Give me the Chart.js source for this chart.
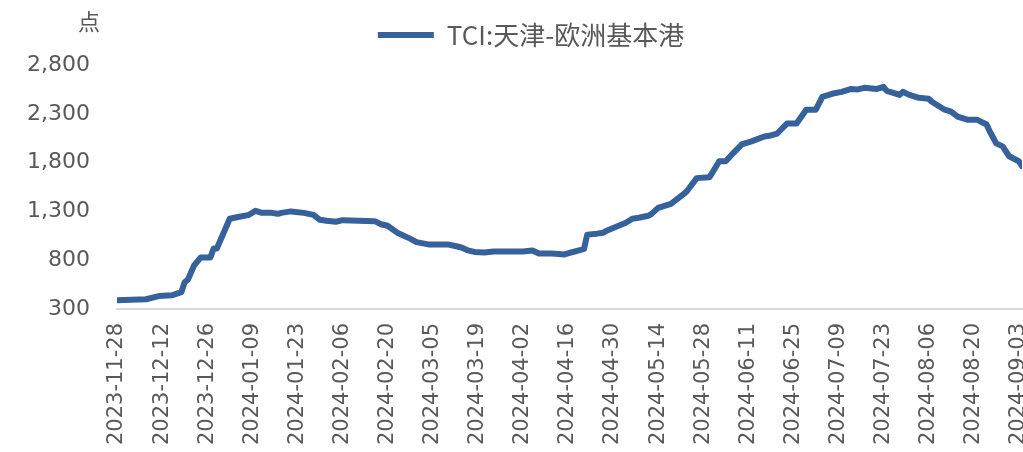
<!DOCTYPE html>
<html lang="zh-CN">
<head>
  <meta charset="UTF-8" />
  <title>TCI:天津-欧洲基本港</title>
  <script src="https://cdn.jsdelivr.net/npm/chart.js"></script>
  <style>
    html, body { margin: 0; padding: 0; background: #fff; }
    #wrap { position: relative; width: 1023px; height: 452px; }
    #unidade {
      position: absolute; left: 78px; top: 4px;
      font: 22px "Noto Sans CJK SC", sans-serif; color: #595959;
    }
  </style>
</head>
<body>
  <div id="wrap">
    <canvas id="grafico" width="1023" height="452"></canvas>
    <div id="unidade">点</div>
  </div>

  <script>
    // dados (valor do índice por data)
    const datas = [
      "2023-11-28", "2023-12-07", "2023-12-11", "2023-12-15", "2023-12-18", "2023-12-19",
      "2023-12-20", "2023-12-22", "2023-12-24", "2023-12-27", "2023-12-28", "2023-12-29",
      "2024-01-02", "2024-01-05", "2024-01-08", "2024-01-10", "2024-01-12", "2024-01-15",
      "2024-01-17", "2024-01-18", "2024-01-21", "2024-01-25", "2024-01-28", "2024-01-30",
      "2024-02-01", "2024-02-04", "2024-02-06", "2024-02-16", "2024-02-18", "2024-02-20",
      "2024-02-23", "2024-02-27", "2024-02-29", "2024-03-04", "2024-03-10", "2024-03-12",
      "2024-03-14", "2024-03-16", "2024-03-18", "2024-03-21", "2024-03-24", "2024-04-02",
      "2024-04-05", "2024-04-07", "2024-04-11", "2024-04-15", "2024-04-17", "2024-04-20",
      "2024-04-21", "2024-04-22", "2024-04-25", "2024-04-27", "2024-04-28", "2024-05-04",
      "2024-05-06", "2024-05-08", "2024-05-11", "2024-05-12", "2024-05-14", "2024-05-18",
      "2024-05-20", "2024-05-22", "2024-05-23", "2024-05-26", "2024-05-30", "2024-06-02",
      "2024-06-04", "2024-06-06", "2024-06-09", "2024-06-12", "2024-06-16", "2024-06-18",
      "2024-06-20", "2024-06-23", "2024-06-26", "2024-06-29", "2024-07-02", "2024-07-04",
      "2024-07-06", "2024-07-07", "2024-07-10", "2024-07-13", "2024-07-15", "2024-07-17",
      "2024-07-21", "2024-07-23", "2024-07-24", "2024-07-28", "2024-07-29", "2024-07-31",
      "2024-08-03", "2024-08-06", "2024-08-07", "2024-08-11", "2024-08-13", "2024-08-15",
      "2024-08-18", "2024-08-21", "2024-08-24", "2024-08-25", "2024-08-27", "2024-08-29",
      "2024-08-31", "2024-09-03", "2024-09-04"
    ];
    const valores = [
      390, 400, 432, 440, 473, 574,
      600, 750, 828, 828, 920, 920,
      1225, 1245, 1265, 1306, 1285, 1285,
      1275, 1285, 1300, 1285, 1265, 1214,
      1204, 1194, 1210, 1200, 1168, 1153,
      1082, 1021, 985, 960, 960, 945,
      930, 900, 885, 879, 889, 889,
      900, 869, 869, 859, 879, 905,
      915, 1062, 1072, 1082, 1102, 1184,
      1225, 1235, 1255, 1275, 1336, 1377,
      1428, 1479, 1509, 1641, 1651, 1814,
      1814, 1885, 1987, 2017, 2068, 2078,
      2098, 2200, 2200, 2342, 2342, 2474,
      2494, 2505, 2525, 2555, 2550, 2566,
      2555, 2576, 2535, 2494, 2525, 2494,
      2464, 2454, 2423, 2342, 2322, 2271,
      2240, 2240, 2190, 2119, 1997, 1966,
      1865, 1814, 1763
    ];
    const rotulosX = [
      "2023-11-28", "2023-12-12", "2023-12-26", "2024-01-09", "2024-01-23", "2024-02-06",
      "2024-02-20", "2024-03-05", "2024-03-19", "2024-04-02", "2024-04-16", "2024-04-30",
      "2024-05-14", "2024-05-28", "2024-06-11", "2024-06-25", "2024-07-09", "2024-07-23",
      "2024-08-06", "2024-08-20", "2024-09-03"
    ];
    const serie = "TCI:天津-欧洲基本港";

    const inicio = Date.parse(datas[0]);
    function dia(s) {
      return (Date.parse(s) - inicio) / 86400000;
    }

    const corLinha = "#36619a";
    const corTexto = "#595959";
    const fonteNum = '"DejaVu Sans", Verdana, sans-serif';

    // desloca a legenda um pouco para a direita e para cima, como no original
    const moverLegenda = {
      id: "moverLegenda",
      afterLayout(chart) {
        const l = chart.legend;
        l.left += 20; l.right += 20;
        l.top -= 7; l.bottom -= 7;
      }
    };

    const ctx = document.getElementById("grafico").getContext("2d");
    new Chart(ctx, {
      type: "line",
      data: {
        datasets: [{
          label: serie,
          data: datas.map((d, i) => ({ x: dia(d), y: valores[i] })),
          borderColor: corLinha,
          backgroundColor: corLinha,
          borderWidth: 6,
          borderCapStyle: "round",
          borderJoinStyle: "round",
          pointRadius: 0,
          tension: 0
        }]
      },
      options: {
        responsive: false,
        animation: false,
        locale: "en-US",
        layout: { padding: { top: 19, right: 1, left: 0, bottom: 0 } },
        plugins: {
          tooltip: { enabled: false },
          legend: {
            position: "top",
            labels: {
              usePointStyle: true,
              pointStyle: "line",
              pointStyleWidth: 56,
              color: corTexto,
              font: { family: '"Noto Sans CJK SC", sans-serif', size: 26 },
              padding: 10
            }
          }
        },
        scales: {
          x: {
            type: "linear",
            min: 0,
            max: dia("2024-09-04"),
            grid: { drawOnChartArea: false, drawTicks: false },
            border: { display: true, color: "#d9d9d9", width: 2 },
            afterBuildTicks: s => { s.ticks = rotulosX.map(t => ({ value: dia(t) })); },
            afterFit: s => { s.height = 143; s.paddingLeft = 0; s.paddingRight = 0; },
            ticks: {
              autoSkip: false,
              maxRotation: 90,
              minRotation: 90,
              padding: 14,
              color: corTexto,
              font: { family: fonteNum, size: 21 },
              callback: (v, i) => rotulosX[i]
            }
          },
          y: {
            min: 300,
            max: 2800,
            grid: { display: false, drawTicks: false },
            border: { display: false },
            afterFit: s => { s.width = 117; },
            ticks: {
              stepSize: 500,
              padding: 27,
              color: corTexto,
              font: { family: fonteNum, size: 22 }
            }
          }
        }
      },
      plugins: [moverLegenda]
    });
  </script>
</body>
</html>
